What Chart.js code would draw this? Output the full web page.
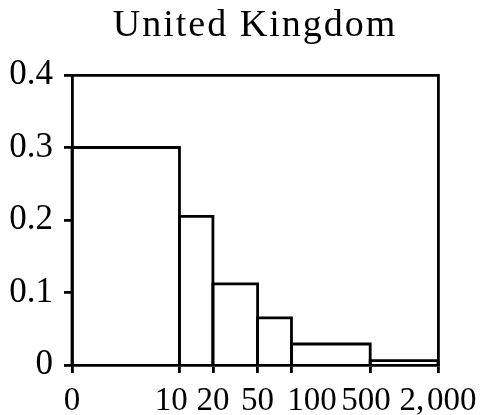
<!DOCTYPE html>
<html>
<head>
<meta charset="utf-8">
<script src="https://cdn.jsdelivr.net/npm/chart.js@4"></script>
<style>
  html, body { margin: 0; padding: 0; background: #fff; }
  canvas { display: block; }
</style>
</head>
<body>
<canvas id="chart" width="490" height="415"></canvas>
<script>
// Firm-size bins (employees) and the share of firms falling in each bin
const binEdges = [0, 10, 20, 50, 100, 500, 2000];
const binShares = [0.30, 0.205, 0.112, 0.065, 0.029, 0.006];
const xTickLabels = ['0', '10', '20', '50', '100', '500', '2,000'];
const yTickValues = [0, 0.1, 0.2, 0.3, 0.4];
const yTickLabels = ['0', '0.1', '0.2', '0.3', '0.4'];
const chartTitle = 'United Kingdom';

// Compressed size axis: asinh starts at 0 and spreads out the small bins
const SIZE_SCALE = 2.25;
const toAxis = v => Math.asinh(v / SIZE_SCALE);

// Small nudges (in no-break spaces) that keep the crowded size labels apart;
// the thousands comma gets a hair space after it, as in typeset math
const NBSP = '\u00A0';
const labelNudge = { '10': -2, '100': 5, '500': -1 };
function nudged(label) {
  const n = labelNudge[label] || 0;
  const text = label.replace(',', ',\u200A');
  return n > 0 ? NBSP.repeat(n) + text : text + NBSP.repeat(-n);
}

const FONT = 'Liberation Serif';
const INK = '#000';
const LINE = 2.8;

// Each bin is drawn as an open rectangle resting on the axis
const datasets = binShares.map((share, i) => ({
  data: [
    { x: toAxis(binEdges[i]), y: 0 },
    { x: toAxis(binEdges[i]), y: share },
    { x: toAxis(binEdges[i + 1]), y: share },
    { x: toAxis(binEdges[i + 1]), y: 0 }
  ],
  showLine: true,
  fill: false,
  tension: 0,
  borderColor: INK,
  borderWidth: LINE,
  borderJoinStyle: 'miter',
  pointRadius: 0,
  pointHoverRadius: 0,
  clip: false
}));

// Wider tracking for the title only; tick labels are drawn after the datasets
const titleTracking = {
  id: 'titleTracking',
  beforeDraw(chart) { chart.ctx.letterSpacing = '2px'; },
  beforeDatasetsDraw(chart) { chart.ctx.letterSpacing = '0px'; },
  afterDraw(chart) { chart.ctx.letterSpacing = '0px'; }
};

const tickMarks = {
  drawOnChartArea: false,
  drawTicks: true,
  tickLength: 8,
  color: INK,
  lineWidth: LINE
};

new Chart(document.getElementById('chart'), {
  type: 'scatter',
  data: { datasets },
  plugins: [titleTracking],
  options: {
    responsive: false,
    animation: false,
    events: [],
    layout: { padding: { left: 0, right: 52, top: 0, bottom: 0 } },
    plugins: {
      legend: { display: false },
      tooltip: { enabled: false },
      title: {
        display: true,
        text: chartTitle,
        fullSize: false,
        color: INK,
        font: { family: FONT, size: 38, weight: 'normal', lineHeight: 1 },
        padding: { top: 7, bottom: 30 }
      }
    },
    scales: {
      x: {
        type: 'linear',
        position: 'bottom',
        min: toAxis(binEdges[0]),
        max: toAxis(binEdges[binEdges.length - 1]),
        afterBuildTicks: s => { s.ticks = binEdges.map(e => ({ value: toAxis(e) })); },
        afterFit: s => { s.height = 50; },
        grid: tickMarks,
        border: { display: true, color: INK, width: LINE },
        ticks: {
          z: 1,
          padding: 9,
          autoSkip: false,
          maxRotation: 0,
          color: INK,
          font: { family: FONT, size: 33 },
          callback: (v, i) => nudged(xTickLabels[i])
        }
      },
      y: {
        type: 'linear',
        position: 'left',
        min: yTickValues[0],
        max: yTickValues[yTickValues.length - 1],
        afterBuildTicks: s => { s.ticks = yTickValues.map(v => ({ value: v })); },
        afterFit: s => { s.width = 72; },
        grid: tickMarks,
        border: { display: true, color: INK, width: LINE },
        ticks: {
          z: 1,
          padding: 11,
          color: INK,
          font: { family: FONT, size: 35 },
          callback: (v, i) => yTickLabels[i]
        }
      },
      xTop: {
        type: 'linear',
        position: 'top',
        afterFit: s => { s.height = 0; },
        grid: { display: false },
        ticks: { display: false },
        border: { display: true, color: INK, width: LINE }
      },
      yRight: {
        type: 'linear',
        position: 'right',
        afterFit: s => { s.width = 0; },
        grid: { display: false },
        ticks: { display: false },
        border: { display: true, color: INK, width: LINE }
      }
    }
  }
});
</script>
</body>
</html>
